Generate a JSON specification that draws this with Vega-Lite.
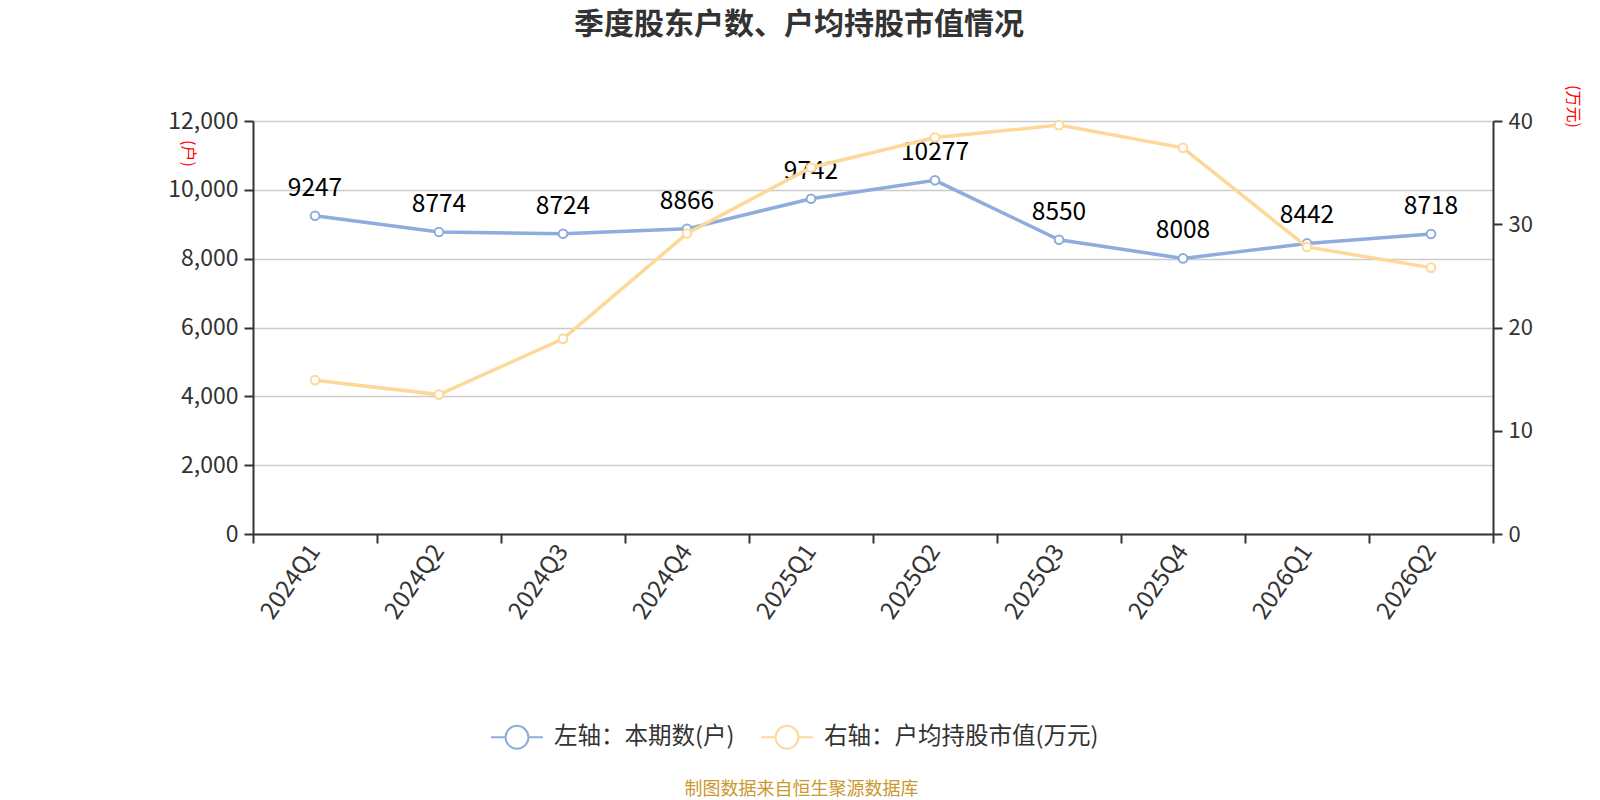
{
  "$schema": "https://vega.github.io/schema/vega-lite/v6.json",
  "autosize": {"type": "none"},
  "width": 1240,
  "height": 413,
  "padding": {"left": 253, "top": 121, "right": 107, "bottom": 266},
  "background": "white",
  "title": {
    "text": "季度股东户数、户均持股市值情况",
    "fontSize": 30,
    "fontWeight": "bold",
    "color": "#333333",
    "anchor": "middle",
    "dx": -74,
    "offset": 45
  },
  "data": {
    "values": [
      {"quarter": "2024Q1", "holders": 9247, "value": 14.9},
      {"quarter": "2024Q2", "holders": 8774, "value": 13.5},
      {"quarter": "2024Q3", "holders": 8724, "value": 18.9},
      {"quarter": "2024Q4", "holders": 8866, "value": 29.1},
      {"quarter": "2025Q1", "holders": 9742, "value": 35.5},
      {"quarter": "2025Q2", "holders": 10277, "value": 38.4},
      {"quarter": "2025Q3", "holders": 8550, "value": 39.6},
      {"quarter": "2025Q4", "holders": 8008, "value": 37.4},
      {"quarter": "2026Q1", "holders": 8442, "value": 27.8},
      {"quarter": "2026Q2", "holders": 8718, "value": 25.8}
    ]
  },
  "encoding": {
    "x": {
      "field": "quarter",
      "type": "ordinal",
      "sort": null,
      "scale": {"paddingInner": 0, "paddingOuter": 0},
      "axis": {
        "title": "制图数据来自恒生聚源数据库",
        "titleColor": "#c9982f",
        "titleFontSize": 18,
        "titleFontWeight": "normal",
        "titleX": 548,
        "titleY": 255,
        "titleBaseline": "middle",
        "labelAngle": -55,
        "labelAlign": "right",
        "labelBaseline": "middle",
        "labelFontSize": 24,
        "labelColor": "#333333",
        "labelPadding": 4,
        "tickBand": "extent",
        "tickSize": 9,
        "tickColor": "#333333",
        "tickWidth": 2,
        "domainColor": "#333333",
        "domainWidth": 2,
        "grid": false
      }
    }
  },
  "layer": [
    {
      "encoding": {
        "y": {
          "field": "holders",
          "type": "quantitative",
          "scale": {"domain": [0, 12000], "nice": false},
          "axis": {
            "orient": "left",
            "title": "(户)",
            "titleColor": "#ff0000",
            "titleFontSize": 16,
            "titleFontWeight": "normal",
            "titleAngle": 90,
            "titleAlign": "center",
            "titleBaseline": "middle",
            "titleX": -66,
            "titleY": 32,
            "values": [0, 2000, 4000, 6000, 8000, 10000, 12000],
            "format": ",.0f",
            "labelFontSize": 23,
            "labelColor": "#333333",
            "labelPadding": 6,
            "tickSize": 9,
            "tickColor": "#333333",
            "tickWidth": 2,
            "domainColor": "#333333",
            "domainWidth": 2,
            "grid": true,
            "gridColor": "#cccccc",
            "gridWidth": 1.5
          }
        }
      },
      "layer": [
        {
          "mark": {"type": "line", "strokeWidth": 3.5},
          "encoding": {
            "color": {"datum": "左轴：本期数(户)", "type": "nominal"}
          }
        },
        {
          "mark": {"type": "point", "filled": false, "fill": "white", "fillOpacity": 1, "opacity": 1, "size": 75, "strokeWidth": 2},
          "encoding": {
            "color": {"datum": "左轴：本期数(户)", "type": "nominal"}
          }
        },
        {
          "mark": {"type": "text", "fontSize": 24.5, "color": "#000000", "baseline": "bottom", "dy": -15},
          "encoding": {
            "text": {"field": "holders", "type": "quantitative", "format": "d"}
          }
        }
      ]
    },
    {
      "encoding": {
        "y": {
          "field": "value",
          "type": "quantitative",
          "scale": {"domain": [0, 40], "nice": false},
          "axis": {
            "orient": "right",
            "title": "(万元)",
            "titleColor": "#ff0000",
            "titleFontSize": 16,
            "titleFontWeight": "normal",
            "titleAngle": 90,
            "titleAlign": "center",
            "titleBaseline": "middle",
            "titleX": 79,
            "titleY": -15,
            "values": [0, 10, 20, 30, 40],
            "labelFontSize": 22,
            "labelColor": "#333333",
            "labelPadding": 6,
            "tickSize": 9,
            "tickColor": "#333333",
            "tickWidth": 2,
            "domainColor": "#333333",
            "domainWidth": 2,
            "grid": false
          }
        }
      },
      "layer": [
        {
          "mark": {"type": "line", "strokeWidth": 3.5},
          "encoding": {
            "color": {"datum": "右轴：户均持股市值(万元)", "type": "nominal"}
          }
        },
        {
          "mark": {"type": "point", "filled": false, "fill": "white", "fillOpacity": 1, "opacity": 1, "size": 75, "strokeWidth": 2},
          "encoding": {
            "color": {"datum": "右轴：户均持股市值(万元)", "type": "nominal"}
          }
        }
      ]
    }
  ],
  "resolve": {"scale": {"y": "independent"}},
  "config": {
    "font": "Noto Sans CJK SC",
    "view": {"stroke": null},
    "range": {"category": ["#8eacdc", "#fdd899"]},
    "legend": {
      "orient": "none",
      "legendX": 237,
      "legendY": 589,
      "direction": "horizontal",
      "title": null,
      "labelFontSize": 23.5,
      "labelColor": "#333333",
      "labelLimit": 0,
      "labelOffset": 10,
      "columnPadding": 22,
      "symbolType": "M-1,0L-0.44,0M0.44,0L1,0M-0.44,0A0.44,0.44,0,1,0,0.44,0A0.44,0.44,0,1,0,-0.44,0",
      "symbolSize": 2704,
      "symbolStrokeWidth": 2,
      "symbolFillColor": "white"
    }
  }
}
